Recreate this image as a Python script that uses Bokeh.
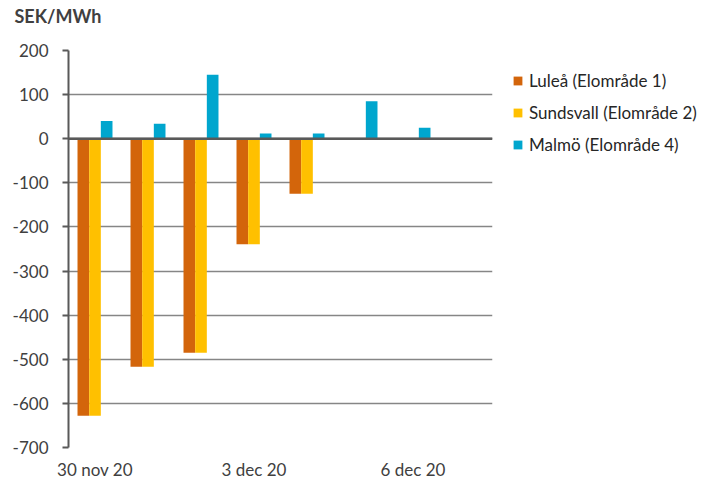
from bokeh.plotting import figure
from bokeh.models import ColumnDataSource, FixedTicker, Legend, LegendItem, Span, Range1d, PrintfTickFormatter
from bokeh.embed import file_html
from bokeh.resources import INLINE

days = ["30 nov 20", "1 dec 20", "2 dec 20", "3 dec 20", "4 dec 20", "5 dec 20", "6 dec 20", "7 dec 20"]
lulea = [-628, -517, -485, -239, -125, 0, 0, None]
sundsvall = [-628, -517, -485, -239, -125, 0, 0, None]
malmo = [40, 34, 145, 12, 12, 85, 25, None]
series_names = ["Luleå (Elområde 1)", "Sundsvall (Elområde 2)", "Malmö (Elområde 4)"]
colors = ["#D3650B", "#FFC000", "#00A6CE"]
y_ticks = [200, 100, 0, -100, -200, -300, -400, -500, -600, -700]
x_label_days = [0, 3, 6]
unit_title = "SEK/MWh"

FONT = "Lato"
TXT = "#404040"

p = figure(frame_width=424, frame_height=397, output_backend="svg", toolbar_location=None,
           x_range=Range1d(-0.5, len(days) - 0.5), y_range=Range1d(-700, 200))
p.min_border_left = 68
p.min_border_top = 50
p.min_border_bottom = 30
p.min_border_right = 210
p.outline_line_color = None
p.background_fill_color = "white"
p.border_fill_color = "white"

bw = 0.22
renderers = []
for k, (vals, col) in enumerate(zip([lulea, sundsvall, malmo], colors)):
    xs = [i + (k - 1) * bw for i in range(len(days)) if vals[i] is not None]
    ys = [v for v in vals if v is not None]
    src = ColumnDataSource(dict(x=xs, top=ys))
    r = p.vbar(x="x", top="top", bottom=0, width=bw, source=src,
               fill_color=col, line_color=None)
    renderers.append(r)

p.add_layout(Span(location=0, dimension="width", line_color="#595959", line_width=2.5))

# y axis
p.yaxis.ticker = FixedTicker(ticks=y_ticks)
p.yaxis.formatter = PrintfTickFormatter(format="%d")
p.yaxis.axis_line_color = "#595959"
p.yaxis.axis_line_width = 2
p.yaxis.major_tick_line_color = "#595959"
p.yaxis.major_tick_line_width = 2
p.yaxis.major_tick_out = 6
p.yaxis.major_tick_in = 0
p.yaxis.minor_tick_line_color = None
p.yaxis.major_label_text_font = FONT
p.yaxis.major_label_text_font_size = "17px"
p.yaxis.major_label_text_color = TXT
p.yaxis.major_label_standoff = 14

# x axis
p.xaxis.ticker = FixedTicker(ticks=x_label_days)
p.xaxis.major_label_overrides = {i: days[i] for i in x_label_days}
p.xaxis.axis_line_color = None
p.xaxis.major_tick_line_color = None
p.xaxis.minor_tick_line_color = None
p.xaxis.major_label_text_font = FONT
p.xaxis.major_label_text_font_size = "17px"
p.xaxis.major_label_text_color = TXT
p.xaxis.major_label_standoff = 5

p.xgrid.grid_line_color = None
p.ygrid.ticker = FixedTicker(ticks=y_ticks)
p.ygrid.grid_line_color = "#868686"
p.ygrid.grid_line_width = 1.3

legend = Legend(items=[LegendItem(label=n, renderers=[r]) for n, r in zip(series_names, renderers)],
                location="top_left")
legend.glyph_width = 11
legend.glyph_height = 11
legend.label_text_font = FONT
legend.label_text_font_size = "17px"
legend.label_text_color = "#262626"
legend.label_height = 20
legend.spacing = 11
legend.label_standoff = 6
legend.border_line_color = None
legend.background_fill_alpha = 0
legend.margin = 20
legend.padding = 3
p.add_layout(legend, "right")

p.title.text = unit_title + "\n"
p.title.text_font = FONT
p.title.text_font_size = "18px"
p.title.text_font_style = "bold"
p.title.text_color = TXT
p.title.align = "left"
p.title.offset = -54
p.title.standoff = 4

open("out.html", "w").write(file_html(p, INLINE))
